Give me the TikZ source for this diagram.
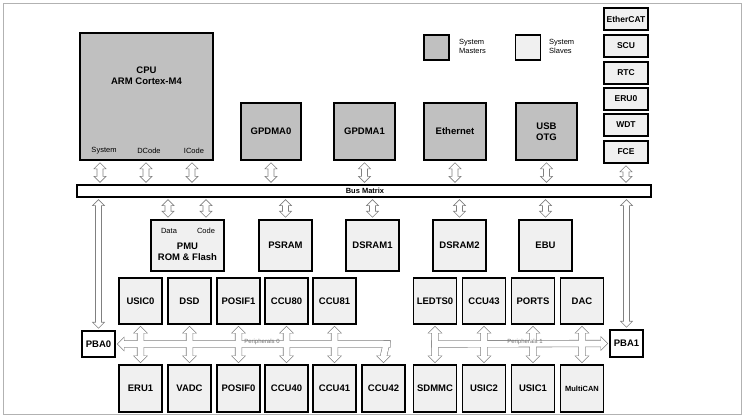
\documentclass[tikz,border=0pt]{standalone}
\usepackage{fontspec}
\setmainfont{Liberation Sans}
\usetikzlibrary{calc}
\definecolor{master}{HTML}{C0C0C0}
\definecolor{slave}{HTML}{F0F0F0}
\tikzset{
  blk/.style={draw, line width=1.6pt, fill=slave, inner sep=0pt, font=\bfseries\fontsize{9.5}{11}\selectfont, align=center},
  mst/.style={blk, fill=master},
  small/.style={font=\fontsize{7.5}{9}\selectfont, inner sep=0pt},
  bipath/.style={draw=gray, fill=white, line width=0.6pt},
  busout/.style={draw=gray, line width=1.2pt},
  busin/.style={fill=white}
}
% hollow double arrow, vertical
\newcommand\biv[4][bipath]{\path[#1] let \p1=(#3), \p2=(#4) in
  (#2pt,\y1-2pt) -- ++(6pt,-6pt) -- ++(-3pt,0pt) -- (#2pt+3pt,\y2+8pt) -- ++(3pt,0pt)
  -- (#2pt,\y2+2pt) -- ++(-6pt,6pt) -- ++(3pt,0pt) -- (#2pt-3pt,\y1-8pt) -- ++(-3pt,0pt) -- cycle;}
% peripheral buses
\newcommand\pbus[1]{
  \path[#1] let \p1=(pba0.east) in (\x1+2pt,\y1) -- ++(6pt,6pt) -- ++(0pt,-3pt) -- (390,341) -- (390,347) -- (\x1+8pt,\y1-3pt) -- ++(0pt,-3pt) -- cycle;
  \path[#1] let \p1=(ccu42.north) in (384,341) -- (390,341) -- (\x1+3pt,\y1+8pt) -- ++(3pt,0pt) -- (\x1,\y1+2pt) -- ++(-6pt,6pt) -- ++(3pt,0pt) -- cycle;
  \path[#1] let \p1=(pba1.west) in (\x1-2pt,\y1) -- ++(-6pt,6pt) -- ++(0pt,-3pt) -- (432,341) -- (432,347) -- (\x1-8pt,\y1-3pt) -- ++(0pt,-3pt) -- cycle;
  \biv[#1]{140.5}{usic0.south}{eru1.north}
  \biv[#1]{189.5}{dsd.south}{vadc.north}
  \biv[#1]{238.5}{posif1.south}{posif0.north}
  \biv[#1]{286.5}{ccu80.south}{ccu40.north}
  \biv[#1]{334.5}{ccu81.south}{ccu41.north}
  \biv[#1]{435}{ledts0.south}{sdmmc.north}
  \biv[#1]{484}{ccu43.south}{usic2.north}
  \biv[#1]{533}{ports.south}{usic1.north}
  \biv[#1]{582}{dac.south}{multican.north}
}
\begin{document}
\begin{tikzpicture}[x=1pt,y=-1pt]
  \useasboundingbox (0,0) rectangle (745,418);
  \draw[gray!60, line width=1pt] (3,3) rectangle (741,414);
  % masters
  \node[mst, minimum width=133pt, minimum height=127pt] (cpu) at (146.5,96.5) {};
  \node[font=\bfseries\fontsize{9.5}{11}\selectfont, align=center] (cpulbl) at (146.5,76) {CPU\\ARM Cortex-M4};
  \node[small] (csys) at (104,151) {System};
  \node[small] (cdcode) at (149,151) {DCode};
  \node[small] (cicode) at (194,151) {ICode};
  \node[mst, minimum width=60pt, minimum height=57pt] (gpdma0) at (271,131.5) {GPDMA0};
  \node[mst, minimum width=61pt, minimum height=57pt] (gpdma1) at (364.5,131.5) {GPDMA1};
  \node[mst, minimum width=62pt, minimum height=57pt] (eth) at (455,131.5) {Ethernet};
  \node[mst, minimum width=61pt, minimum height=57pt] (usb) at (546.5,131.5) {USB\\OTG};
  % legend
  \node[draw, line width=1.2pt, fill=master, minimum size=25pt] (lgm) at (436.5,47.5) {};
  \node[small, anchor=west, align=left] (lgmt) at (459,46) {System\\Masters};
  \node[draw, line width=1.2pt, fill=slave, minimum size=25pt] (lgs) at (528,47.5) {};
  \node[small, anchor=west, align=left] (lgst) at (549,46) {System\\Slaves};
  % right column
  \foreach \n/\t/\y in {ecat/EtherCAT/19, scu/SCU/46, rtc/RTC/73, eru0/ERU0/99, wdt/WDT/125, fce/FCE/152}
    \node[blk, minimum width=44pt, minimum height=22pt, font=\bfseries\fontsize{8.5}{10}\selectfont] (\n) at (626,\y) {\t};
  % bus matrix
  \node[draw, line width=1.2pt, fill=white, minimum width=574pt, minimum height=12pt, inner sep=0pt] (bus) at (364,191) {};
  \node[font=\bfseries\fontsize{7.5}{8}\selectfont] (buslbl) at (365,191) {Bus Matrix};
  % slaves
  \node[blk, minimum width=73pt, minimum height=51pt] (pmu) at (187.5,245.5) {};
  \node[small] (pdata) at (169,231) {Data};
  \node[small] (pcode) at (206,231) {Code};
  \node[font=\bfseries\fontsize{9.5}{11}\selectfont, align=center, inner sep=0pt] (pmulbl) at (187.5,252) {PMU\\ROM \& Flash};
  \foreach \n/\t/\x in {psram/PSRAM/285.5, dsram1/DSRAM1/372.5, dsram2/DSRAM2/459.5, ebu/EBU/545.5}
    \node[blk, minimum width=53pt, minimum height=51pt] (\n) at (\x,245.5) {\t};
  % peripherals
  \foreach \n/\t/\x in {usic0/USIC0/140.5, dsd/DSD/189.5, posif1/POSIF1/238.5, ccu80/CCU80/286.5, ccu81/CCU81/334.5,
      ledts0/LEDTS0/435, ccu43/CCU43/484, ports/PORTS/533, dac/DAC/582}
    \node[blk, minimum width=43pt, minimum height=46pt] (\n) at (\x,301) {\t};
  \foreach \n/\t/\x in {eru1/ERU1/140.5, vadc/VADC/189.5, posif0/POSIF0/238.5, ccu40/CCU40/286.5, ccu41/CCU41/334.5, ccu42/CCU42/383.5,
      sdmmc/SDMMC/435, usic2/USIC2/484, usic1/USIC1/533}
    \node[blk, minimum width=43pt, minimum height=47pt] (\n) at (\x,388.5) {\t};
  \node[blk, minimum width=43pt, minimum height=47pt, font=\bfseries\fontsize{7.5}{8}\selectfont] (multican) at (582,388.5) {MultiCAN};
  \node[blk, fill=white, minimum width=33pt, minimum height=26pt] (pba0) at (98.5,344) {PBA0};
  \node[blk, fill=white, minimum width=33pt, minimum height=27pt] (pba1) at (626.5,343.5) {PBA1};
  % bus matrix connections
  \biv{100}{cpu.south}{bus.north}
  \biv{146}{cpu.south}{bus.north}
  \biv{192}{cpu.south}{bus.north}
  \biv{271}{gpdma0.south}{bus.north}
  \biv{364.5}{gpdma1.south}{bus.north}
  \biv{455}{eth.south}{bus.north}
  \biv{546.5}{usb.south}{bus.north}
  \biv{626}{fce.south}{bus.north}
  \biv{168}{bus.south}{pmu.north}
  \biv{206}{bus.south}{pmu.north}
  \biv{285.5}{bus.south}{psram.north}
  \biv{372.5}{bus.south}{dsram1.north}
  \biv{459.5}{bus.south}{dsram2.north}
  \biv{545.5}{bus.south}{ebu.north}
  \biv{98.5}{bus.south}{pba0.north}
  \biv{626.5}{bus.south}{pba1.north}
  % peripheral buses
  \pbus{busout}
  \pbus{busin}
  \node[font=\fontsize{6}{7}\selectfont, text=gray!90!black, inner sep=0pt] (p0lbl) at (262,342) {Peripherals 0};
  \node[font=\fontsize{6}{7}\selectfont, text=gray!90!black, inner sep=0pt] (p1lbl) at (525,342) {Peripherals 1};
\end{tikzpicture}
\end{document}
